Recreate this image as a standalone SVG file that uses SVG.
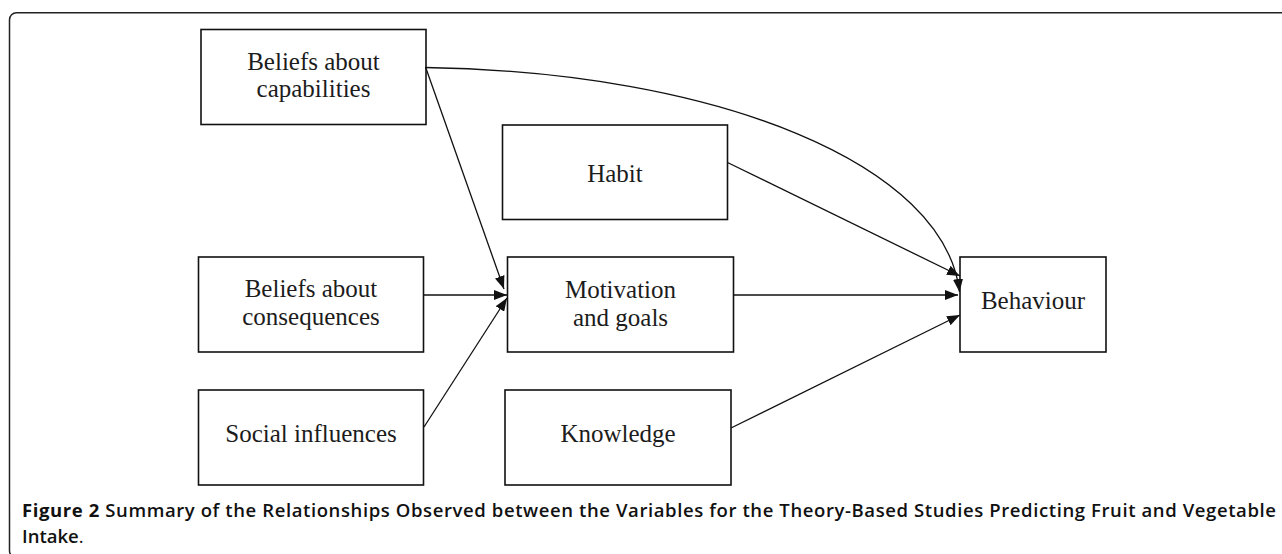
<svg xmlns="http://www.w3.org/2000/svg" width="1282" height="554" viewBox="0 0 1282 554">
<style>
.box{fill:#fff;stroke:#111;stroke-width:1.6}
.lbl{font-family:"Liberation Serif","Times New Roman",serif;font-size:25px;fill:#1c1c1c;text-anchor:middle}
.con{fill:none;stroke:#111;stroke-width:1.3}
.cap{font-family:"Open Sans","Liberation Sans",sans-serif;font-size:18.5px;fill:#111}
</style>
<defs>
<marker id="arr" markerWidth="13" markerHeight="10" refX="13" refY="5" orient="auto" markerUnits="userSpaceOnUse">
<path d="M0,0 L13,5 L0,10 z" fill="#111"/>
</marker>
</defs>
<rect x="0" y="0" width="1282" height="554" fill="#fff"/>
<rect x="9.5" y="12.75" width="1300" height="545" rx="7" fill="none" stroke="#222" stroke-width="1.5"/>

<g id="capabilities">
<rect class="box" x="201" y="29.5" width="225" height="95"/>
<text class="lbl" x="313.5" y="69.5">Beliefs about</text>
<text class="lbl" x="313.5" y="97">capabilities</text>
</g>
<g id="habit">
<rect class="box" x="502.5" y="125" width="225" height="94.5"/>
<text class="lbl" x="615" y="181.5">Habit</text>
</g>
<g id="consequences">
<rect class="box" x="198.5" y="257" width="225" height="95"/>
<text class="lbl" x="311" y="297">Beliefs about</text>
<text class="lbl" x="311" y="325">consequences</text>
</g>
<g id="motivation">
<rect class="box" x="507.5" y="257" width="226" height="95"/>
<text class="lbl" x="620.5" y="297.5">Motivation</text>
<text class="lbl" x="620.5" y="325.5">and goals</text>
</g>
<g id="social">
<rect class="box" x="198.5" y="390" width="225" height="95"/>
<text class="lbl" x="311" y="441.5">Social influences</text>
</g>
<g id="knowledge">
<rect class="box" x="505" y="390" width="226" height="95"/>
<text class="lbl" x="618" y="441.5">Knowledge</text>
</g>
<g id="behaviour">
<rect class="box" x="960" y="257" width="146" height="95"/>
<text class="lbl" x="1033" y="309">Behaviour</text>
</g>

<g id="connectors">
<path class="con" d="M425,67.5 C720,72 945,165 959.5,292" marker-end="url(#arr)"/>
<path class="con" d="M425.7,67.5 L504,289" marker-end="url(#arr)"/>
<path class="con" d="M423.5,295 L507,295" marker-end="url(#arr)"/>
<path class="con" d="M424,427 L507,298" marker-end="url(#arr)"/>
<path class="con" d="M727.5,162.5 L960,276" marker-end="url(#arr)"/>
<path class="con" d="M733.5,295 L958,295" marker-end="url(#arr)"/>
<path class="con" d="M731,428 L960,315" marker-end="url(#arr)"/>
</g>

<g id="caption">
<text class="cap" x="22" y="517" textLength="1254" lengthAdjust="spacing"><tspan font-weight="700">Figure 2</tspan><tspan font-weight="600"> Summary of the Relationships Observed between the Variables for the Theory-Based Studies Predicting Fruit and Vegetable</tspan></text>
<text class="cap" x="22" y="543"><tspan font-weight="600">Intake</tspan><tspan font-weight="400">.</tspan></text>
</g>
</svg>
